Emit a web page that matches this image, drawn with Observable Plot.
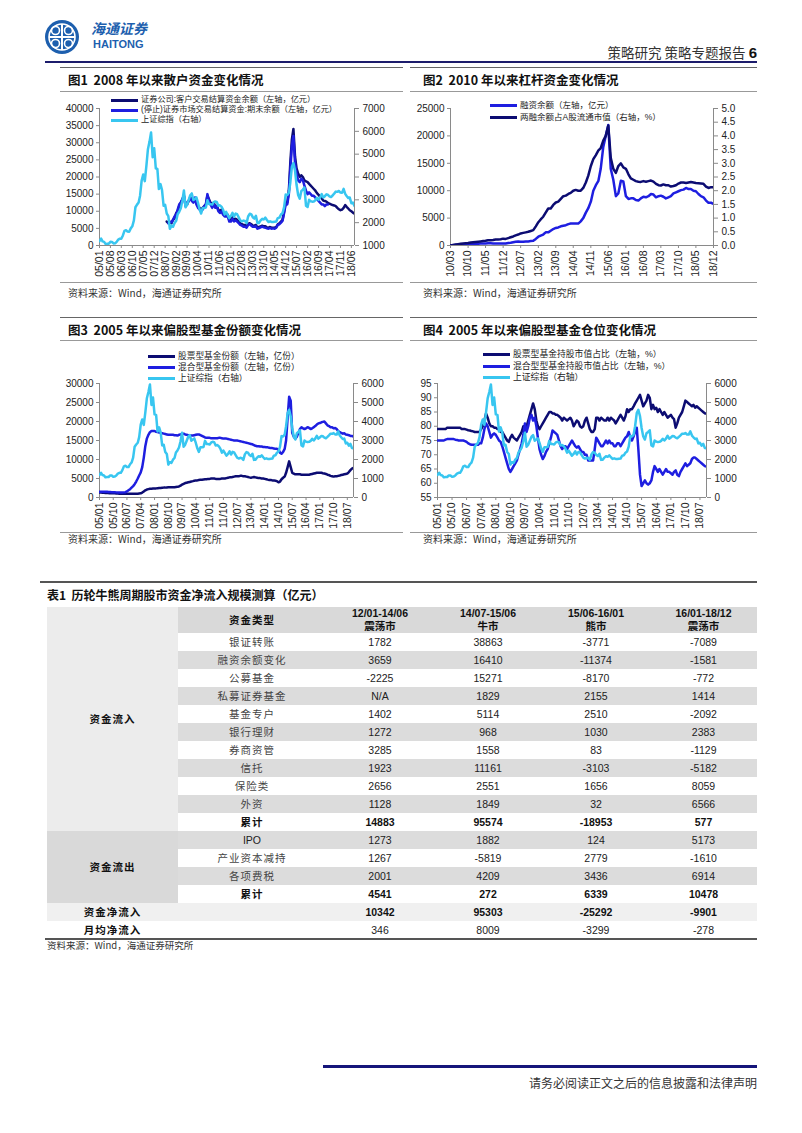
<!DOCTYPE html>
<html><head><meta charset="utf-8">
<script src="https://cdn.jsdelivr.net/npm/d3@7"></script>
<script src="https://cdn.jsdelivr.net/npm/@observablehq/plot@0.6"></script>
<style>
body{margin:0;background:#fff;}
#page{position:relative;width:802px;height:1133px;overflow:hidden;font-family:"Noto Sans CJK SC",sans-serif;background:#fff;}
.rule{position:absolute;height:0;}
.title{position:absolute;font-weight:bold;font-size:12.5px;white-space:pre;color:#111;line-height:1;}
.src{position:absolute;font-size:10px;color:#333;line-height:1;white-space:pre;}
.leg{position:absolute;display:flex;align-items:center;line-height:1;white-space:pre;color:#222;font-family:"Liberation Sans","Noto Sans CJK SC",sans-serif;}
.leg .sw{display:inline-block;width:27px;height:3px;margin-right:3px;}
.chart{position:absolute;}
#tbl{position:absolute;left:47px;top:607px;width:710px;border-collapse:collapse;border-spacing:0;table-layout:fixed;
 font-family:"Liberation Sans",Arial,"Noto Sans CJK SC",sans-serif;font-size:10.5px;color:#222;}
#tbl td{padding:0;height:18px;text-align:center;line-height:1;}
#tbl .cn{color:#444;letter-spacing:1px;font-family:"Noto Sans CJK SC",sans-serif;}
#tbl .b{font-weight:bold;color:#111;}
</style>
</head><body><div id="page"></div>
<script>
// ---------------- DATA ----------------
const shStart = "2005-01"; // 上证综指 monthly
const shIndex = [
1190,1300,1180,1160,1060,1080,1080,1160,1155,1090,1100,1160,
1260,1300,1300,1440,1640,1670,1610,1600,1750,1840,2100,2675,
2790,2880,3180,3840,4110,3820,4470,5220,5550,5950,4870,5260,
4380,4350,3470,3690,3430,2740,2780,2400,2290,1730,1870,1820,
1990,2080,2370,2480,2630,2960,3410,2670,2780,2990,3200,3280,
2990,3050,3110,2870,2590,2400,2640,2640,2660,2980,2820,2810,
2790,2900,2930,2910,2740,2760,2700,2570,2360,2470,2330,2200,
2290,2430,2260,2400,2370,2230,2100,2050,2090,2070,1980,2270,
2390,2360,2240,2180,2300,1980,1990,2100,2170,2140,2220,2120,
2030,2060,2030,2030,2040,2050,2200,2220,2360,2420,2680,3230,
3210,3310,3750,4440,4610,4280,3660,3210,3050,3380,3450,3540,
2740,2690,3000,2940,2920,2930,2980,3090,3000,3100,3250,3100,
3160,3240,3220,3150,3120,3190,3270,3360,3350,3390,3320,3310,
3480,3260,3170,3080,3100,2850,2880,2730,2820,2600,2590,2490];

// Fig 1
const c1Ticks = ["05/01","05/08","06/03","06/10","07/05","07/12","08/07","09/02","09/09","10/04","10/11","11/06","12/01","12/08","13/03","13/10","14/05","14/12","15/07","16/02","16/09","17/04","17/11","18/06"];
const c1NavyStart = "2008-08"; // 证券公司:客户交易结算资金余额
const c1Navy = [7000,6500,6800,6500,7500,
8000,9500,10000,11500,12500,13500,14500,12000,12000,13000,14000,13500,
13000,13500,12500,11500,11000,10500,11000,11500,12000,14500,13500,12500,
12000,12500,11500,11500,10500,10000,10500,9500,9000,9000,9000,7500,
7500,8200,7500,7800,7500,7000,6500,6200,6000,6000,5500,6300,
6500,6200,5800,5800,6000,5200,5400,5600,5800,5600,5600,5300,
5200,5400,5200,5200,5200,5400,6200,6500,7000,7500,10000,12500,
12500,16000,24000,31000,34000,26000,22500,21000,20000,20500,20000,19000,
18700,18500,18000,17500,17000,16500,16000,15300,14800,14200,13800,13100,
13000,12800,12500,12200,12000,11800,11700,11500,11000,10600,10300,10500,
11000,11800,11300,10800,10300,10000,9600,9300];
const c1BlueStart = "2008-09"; // (停止)证券市场交易结算资金:期末余额
const c1Blue = [6500,7000,6800,7500,
8500,9000,10500,12000,12500,13500,14500,11500,12500,13000,14000,13000,
12500,14000,12000,11000,10500,10000,10500,11500,12000,15000,13000,12000,
11000,12000,11000,11500,10000,9500,10000,9000,8500,8500,8500,7000,
7000,7800,7000,7300,7000,6500,6000,5800,5500,5500,5200,6000,
6200,5800,5500,5500,5600,4900,5100,5300,5500,5300,5200,5000,
4900,5100,4900,5000,4900,5200,6000,6200,6700,7200,9500,12000,
12000,15000,22000,29000,32000,24000,21000,19000,18500,19500,19000,17500,
16000,15000,15500,15000,14500,14500,14000,13500,13000,12500,12000,12000,
11500,12000,12000];

// Fig 2
const c2Ticks = ["10/03","10/10","11/05","11/12","12/07","13/02","13/09","14/04","14/11","15/06","16/01","16/08","17/03","17/10","18/05","18/12"];
const c2Start = "2010-03";
const c2Margin = [5,40,70,90,110,140,170,200,260,250,
290,320,350,370,380,400,390,380,370,370,380,350,
360,450,500,600,700,730,700,700,750,750,800,850,
1200,1600,1800,2000,2400,2400,2700,3000,3200,3300,3500,3600,
3700,3900,4000,4000,4000,4000,4400,5000,6000,6800,8000,10000,
11000,11800,14000,18000,20000,22000,14000,12000,9000,9500,11800,11700,
9000,8500,8600,8600,8300,8200,8600,8900,8800,9000,9400,9300,
8800,9000,9100,8900,8600,8800,9000,9500,9700,9900,10100,10200,
10500,10300,10300,10000,9900,9400,9000,8800,8200,7800,7800,7600];
const c2Ratio = [0.00,0.02,0.04,0.05,0.06,0.07,0.08,0.09,0.11,0.12,
0.13,0.14,0.15,0.16,0.17,0.19,0.19,0.20,0.22,0.22,0.23,0.25,
0.24,0.27,0.30,0.33,0.37,0.40,0.44,0.46,0.48,0.50,0.53,0.56,
0.70,0.85,0.95,1.05,1.2,1.35,1.35,1.48,1.57,1.6,1.7,1.8,
1.82,1.88,1.92,2.0,2.03,2.0,2.0,2.1,2.3,2.55,2.9,3.15,
3.3,3.47,3.55,3.83,4.0,4.38,3.2,2.8,2.65,2.9,3.0,2.85,
2.8,2.6,2.45,2.4,2.35,2.33,2.32,2.35,2.33,2.35,2.37,2.33,
2.25,2.2,2.19,2.23,2.2,2.2,2.15,2.17,2.2,2.26,2.3,2.3,
2.28,2.3,2.32,2.3,2.28,2.27,2.26,2.25,2.15,2.1,2.13,2.12];

// Fig 3
const c3Ticks = ["05/01","05/10","06/07","07/04","08/01","08/10","09/07","10/04","11/01","11/10","12/07","13/04","14/01","14/10","15/07","16/04","17/01","17/10","18/07"];
const c34Start = "2005-01";
const c3Stock = [1300,1300,1250,1250,1200,1200,1150,1150,1100,1100,1100,1050,
1050,1000,1000,1000,1000,1000,1000,1000,1000,1000,1000,1000,
1000,1000,1050,1100,1300,1600,1900,2100,2200,2300,2300,2350,
2400,2400,2450,2500,2500,2550,2600,2600,2650,2700,2700,2700,
2700,2700,2750,2800,2900,3100,3400,3600,3800,3900,4000,4100,
4200,4300,4400,4500,4500,4600,4700,4700,4750,4800,4800,4900,
4900,5000,5000,5000,4900,4900,4900,4900,5000,5000,5000,5100,
5200,5300,5300,5400,5500,5600,5600,5600,5700,5700,5600,5600,
5500,5400,5300,5200,5300,5400,5300,5200,5100,5100,5000,5000,
4900,4800,4700,4600,4600,4500,4500,4400,4300,4000,4200,4800,
5200,5500,6500,8000,9500,8000,6500,6300,6100,6100,6100,6100,
6000,6000,6000,6000,6000,6000,6100,6200,6300,6400,6500,6500,
6500,6500,6400,6300,6200,6000,5900,5700,5600,5500,5600,5600,
5700,5800,5900,6000,6100,6200,6300,6700,7200,7600,7800];
const c3Mixed = [1500,1500,1500,1500,1500,1500,1450,1450,1400,1400,1400,1350,
1300,1300,1300,1300,1350,1400,1600,1900,2200,2600,3000,3500,
4200,5000,5800,6600,8000,10500,13500,15500,16500,17200,17500,17500,
17500,17300,17200,17100,17000,16900,16800,16700,16600,16500,16500,16500,
16500,16400,16400,16300,16500,16600,16700,16800,16600,16500,16400,16300,
16300,16300,16400,16500,16600,16600,16400,16200,16000,15800,15700,15700,
15700,15600,15600,15600,15600,15600,15700,15700,15600,15500,15500,15500,
15400,15300,15200,15100,15000,15000,15000,14900,14800,14700,14600,14500,
14400,14300,14200,14100,14000,13800,13600,13500,13500,13400,13400,13300,
13300,13200,13200,13100,13000,13000,12900,12800,12800,12600,11800,11500,
12000,12800,15000,21000,26500,25500,17000,16000,15500,16000,17000,18000,
18500,18200,18000,18200,18500,18300,18000,18200,18500,18800,19200,19500,
19600,19800,19900,20000,19500,19000,18800,18500,18500,18200,18300,18000,
17500,17200,17000,16800,16900,16600,16500,16400,16200,16200,16000];

// Fig 4
const c4Stock = [79,79,79,79,79,79,79.5,79.5,79.5,79.5,79.5,79.5,
79.5,79.5,79.5,79,79,79,78.8,78.6,78.5,78.3,78.2,78,
78,78,78,79,80,82,84.5,83,81,80,80,79.5,
79.5,79,79,78,78,77,76,75,74.5,76,77,76,
75.5,75,76,77,78,80,79,80,82,84,86,88,
86,82,80,79,80,81,82,83,84,85,85,84.5,
84.5,84,84,83.5,83,82,83,82.5,82,82.5,83,82,
80,81,82,81.5,80,79.5,80,82,83,81,79,78,
78,79,83,83,82,83,82.5,82,82,83,82,83,
82.5,82,81,82,83,84,83,82,83.5,86,85,86,
86,87,88,89,90,91,89,87,88,89,91,90,
86,87.5,86,86.5,85,86,85,84,85,84,83,83.5,
84,83,82.5,79.5,81,83,84,85,87,89,88.5,88,
87.5,87,87.5,86.5,87,86.5,86,85.5,85,84.5,84.5];
const c4Mixed = [75,75,75,75,75,75.3,75.5,75.5,75.5,75.5,75.5,75.3,
75.2,75,75,75,75,74.8,74.5,74,73.7,73.5,73.5,73.5,
73.5,73.5,74,74,76,79,81,80,78,76,77,77.5,
77,76,75,74.5,73,71,69,67,65,64,65,66,
67,68,70,72,74,77,81,78,80,83,84,82,
83,80,76,72,70,68.5,69.5,71,72,74,76,78.5,
78,77.5,77,75,73,72,73,73,72,73,74,75,
74,73,72.5,73,72,71,71,70,70,68,68,68,
68,72,76,75,74,73,73,74,75,74,75,74,
74,73,73,74,74,73,74,75,76,76.5,78,76,
75,76.5,78,79.5,72,63,59,60,61,60,59.5,60,
61,64,66,65,64,65,64,63,64,65,64,64,
63.5,63,64,64.5,63,62.5,64,65,66,67,66,66.5,
67,68.5,69,69,68.5,68,67.5,67,66.5,66,65.8];

// Legends & titles
const c1Legend = ["证券公司:客户交易结算资金余额（左轴，亿元）","(停止)证券市场交易结算资金:期末余额（左轴，亿元）","上证综指（右轴）"];
const c2Legend = ["融资余额（左轴，亿元）","两融余额占A股流通市值（右轴，%）"];
const c3Legend = ["股票型基金份额（左轴，亿份）","混合型基金份额（左轴，亿份）","上证综指（右轴）"];
const c4Legend = ["股票型基金持股市值占比（左轴，%）","混合型型基金持股市值占比（左轴，%）","上证综指（右轴）"];
const titles = ["图1  2008 年以来散户资金变化情况","图2  2010 年以来杠杆资金变化情况","图3  2005 年以来偏股型基金份额变化情况","图4  2005 年以来偏股型基金仓位变化情况"];
const sourceText = "资料来源：Wind，海通证券研究所";

// Table
const tableTitle = "表1  历轮牛熊周期股市资金净流入规模测算（亿元）";
const tableCols = ["12/01-14/06","14/07-15/06","15/06-16/01","16/01-18/12"];
const tableColSub = ["震荡市","牛市","熊市","震荡市"];
const inflowTypes = ["银证转账","融资余额变化","公募基金","私募证券基金","基金专户","银行理财","券商资管","信托","保险类","外资","累计"];
const inflowVals = [[1782,38863,-3771,-7089],[3659,16410,-11374,-1581],[-2225,15271,-8170,-772],["N/A",1829,2155,1414],[1402,5114,2510,-2092],[1272,968,1030,2383],[3285,1558,83,-1129],[1923,11161,-3103,-5182],[2656,2551,1656,8059],[1128,1849,32,6566],[14883,95574,-18953,577]];
const outflowTypes = ["IPO","产业资本减持","各项费税","累计"];
const outflowVals = [[1273,1882,124,5173],[1267,-5819,2779,-1610],[2001,4209,3436,6914],[4541,272,6339,10478]];
const netInflow = [10342,95303,-25292,-9901];
const monthlyInflow = [346,8009,-3299,-278];

// ---------------- RENDER ----------------
const NAVY = "#0c0c72", BLUE = "#1e1ee0", CYAN = "#38c6f0", AX = "#8a8a8a";
const page = document.getElementById("page");
const P = d3.utcParse("%Y-%m"), T = d3.utcParse("%y/%m"), fmtYM = d3.utcFormat("%y/%m");
const monthly = (start, vals) => vals.map((v, i) => ({date: d3.utcMonth.offset(P(start), i), v}));

function el(tag, cls, css, html) {
  const e = document.createElement(tag);
  if (cls) e.className = cls;
  Object.assign(e.style, css || {});
  if (html != null) e.innerHTML = html;
  page.appendChild(e);
  return e;
}
function rule(x1, x2, y, w, c) { el("div", "rule", {left: x1 + "px", top: (y - w / 2) + "px", width: (x2 - x1) + "px", borderTop: w + "px solid " + c}); }

// header
el("div", null, {position: "absolute", left: "44px", top: "19px", width: "36px", height: "36px"},
 `<svg width="36" height="36" viewBox="0 0 36 36"><circle cx="18" cy="18" r="17" fill="#1d5fae"/>
 <circle cx="18" cy="18" r="13" fill="none" stroke="#fff" stroke-width="1.6"/>
 <path d="M18 5 V31 M5 18 H31" stroke="#fff" stroke-width="2"/>
 <circle cx="11.5" cy="11.5" r="4" fill="none" stroke="#fff" stroke-width="1.6"/><circle cx="24.5" cy="11.5" r="4" fill="none" stroke="#fff" stroke-width="1.6"/>
 <circle cx="11.5" cy="24.5" r="4" fill="none" stroke="#fff" stroke-width="1.6"/><circle cx="24.5" cy="24.5" r="4" fill="none" stroke="#fff" stroke-width="1.6"/></svg>`);
el("div", null, {position: "absolute", left: "91px", top: "21px", fontSize: "14px", fontStyle: "italic", fontWeight: "bold", color: "#1d5fae", lineHeight: "1", letterSpacing: "0px"}, "海通证券");
el("div", null, {position: "absolute", left: "93px", top: "39px", fontSize: "11px", fontWeight: "bold", color: "#1d5fae", lineHeight: "1", fontFamily: "'Liberation Sans',Arial,sans-serif"}, "HAITONG");
el("div", null, {position: "absolute", right: "45px", top: "45px", fontSize: "13.5px", color: "#333", lineHeight: "1", whiteSpace: "pre"}, '策略研究 策略专题报告 <b style="font-family:Liberation Sans,Arial;font-size:15px;color:#111">6</b>');
rule(45, 757, 62, 2, "#1c1c6c");

// section rules, titles, sources
const cols = [[60, 403, 68], [410, 757, 423]];
[[68, 80, 91, 282, 293], [318, 330, 340, 532, 539]].forEach((r, ri) => {
  cols.forEach((c, ci) => {
    rule(c[0], c[1], r[0], 1.5, "#666");
    rule(c[0], c[1], r[2], 1, "#999");
    rule(c[0], c[1], r[3], 1, "#999");
    el("div", "title", {left: c[2] + "px", top: (r[1] - 6.5) + "px"}, titles[ri * 2 + ci]);
    el("div", "src", {left: c[2] + "px", top: (r[4] - 5) + "px"}, sourceText);
  });
});

function legend(x, ys, labels, colors, fs) {
  labels.forEach((l, i) => {
    el("div", "leg", {left: x + "px", top: (ys[i] - 4.5) + "px", height: "9px", fontSize: fs + "px"},
      `<span class="sw" style="background:${colors[i]}"></span><span>${l}</span>`);
  });
}

function chart(cfg) {
  const toLeft = d3.scaleLinear().domain(cfg.rDomain).range(cfg.yDomain);
  const xDomain = cfg.xDomain.map(P);
  const marks = [
    Plot.ruleY([cfg.yDomain[0]], {stroke: AX}),
    Plot.ruleX([xDomain[0]], {stroke: AX}),
    Plot.ruleX([xDomain[1]], {stroke: AX}),
    Plot.axisY({anchor: "left", label: null, ticks: cfg.yTicks, tickFormat: d3.format("d"), tickSize: 3, tickPadding: 3, stroke: AX, fontSize: 10}),
    Plot.axisY({anchor: "right", label: null, ticks: cfg.rTicks.map(toLeft), tickFormat: d => cfg.rFmt(+toLeft.invert(d).toFixed(6)), tickSize: 4, tickPadding: 4, stroke: AX, fontSize: 10}),
    Plot.axisX({label: null, ticks: cfg.xTicks.map(T), tickFormat: fmtYM, tickRotate: -90, tickSize: 3, tickPadding: 2, stroke: AX, fontSize: 10.5}),
    ...cfg.series.map(s => Plot.line(s.data, {x: "date", y: s.right ? (d => toLeft(d.v)) : "v", stroke: s.color, strokeWidth: 2.5, clip: true}))
  ];
  const svg = Plot.plot({
    width: cfg.w, height: cfg.h, marginLeft: cfg.m[0], marginRight: cfg.m[1], marginTop: cfg.m[2], marginBottom: cfg.m[3],
    x: {type: "utc", domain: xDomain, label: null},
    y: {domain: cfg.yDomain, label: null},
    style: {fontFamily: "'Liberation Sans', Arial, sans-serif", fontSize: "10px", color: "#222", background: "transparent", overflow: "visible"},
    marks
  });
  const wrap = el("div", "chart", {left: cfg.left + "px", top: cfg.top + "px"});
  wrap.appendChild(svg);
}

const sh = monthly(shStart, shIndex);

chart({left: 55, top: 95, w: 350, h: 190, m: [44, 51, 13, 40],
  xDomain: ["2005-01", "2018-08"], xTicks: c1Ticks,
  yDomain: [0, 40000], yTicks: d3.range(0, 40001, 5000),
  rDomain: [1000, 7000], rTicks: d3.range(1000, 7001, 1000), rFmt: d3.format("d"),
  series: [{data: monthly(c1NavyStart, c1Navy), color: NAVY}, {data: monthly(c1BlueStart, c1Blue), color: BLUE}, {data: sh, color: CYAN, right: true}]});
chart({left: 405, top: 95, w: 352, h: 190, m: [45, 44, 13, 40],
  xDomain: ["2010-03", "2018-12"], xTicks: c2Ticks,
  yDomain: [0, 25000], yTicks: d3.range(0, 25001, 5000),
  rDomain: [0, 5], rTicks: d3.range(0, 11).map(i => i / 2), rFmt: d3.format(".1f"),
  series: [{data: monthly(c2Start, c2Margin), color: BLUE}, {data: monthly(c2Start, c2Ratio), color: NAVY, right: true}]});
chart({left: 55, top: 370, w: 350, h: 165, m: [44, 52, 13, 38],
  xDomain: ["2005-01", "2018-11"], xTicks: c3Ticks,
  yDomain: [0, 30000], yTicks: d3.range(0, 30001, 5000),
  rDomain: [0, 6000], rTicks: d3.range(0, 6001, 1000), rFmt: d3.format("d"),
  series: [{data: monthly(c34Start, c3Stock), color: NAVY}, {data: monthly(c34Start, c3Mixed), color: BLUE}, {data: sh, color: CYAN, right: true}]});
chart({left: 405, top: 370, w: 352, h: 165, m: [32, 51, 13, 38],
  xDomain: ["2005-01", "2018-11"], xTicks: c3Ticks,
  yDomain: [55, 95], yTicks: d3.range(55, 96, 5),
  rDomain: [0, 6000], rTicks: d3.range(0, 6001, 1000), rFmt: d3.format("d"),
  series: [{data: monthly(c34Start, c4Stock), color: NAVY}, {data: monthly(c34Start, c4Mixed), color: BLUE}, {data: sh, color: CYAN, right: true}]});

legend(111, [100.5, 110.5, 120.5], c1Legend, [NAVY, BLUE, CYAN], 8.2);
legend(490, [105, 117], c2Legend, [BLUE, NAVY], 8.5);
legend(148, [356, 367, 378], c3Legend, [NAVY, BLUE, CYAN], 8.7);
legend(483, [354, 366, 377], c4Legend, [NAVY, BLUE, CYAN], 8.8);

// table
rule(40, 757, 582, 2, "#555");
el("div", "title", {left: "47px", top: "589px", fontSize: "12px"}, tableTitle);
const tbl = el("table", null, {});
tbl.id = "tbl";
let h = '<colgroup><col style="width:131px"><col style="width:148px"><col style="width:108px"><col style="width:108px"><col style="width:108px"><col style="width:107px"></colgroup>';
const G = "#dcdcdc";
h += `<tr><td rowspan="${inflowTypes.length + 1}" class="cn b" style="background:#ececec">资金流入</td>` +
     `<td class="cn b" style="background:#d9d9d9;height:26px">资金类型</td>` +
     tableCols.map((c, i) => `<td class="b" style="background:#d9d9d9;height:26px;line-height:1.2">${c}<br><span style="font-family:Noto Sans CJK SC">${tableColSub[i]}</span></td>`).join("") + "</tr>";
inflowTypes.forEach((t, i) => {
  const bg = i % 2 === 1 ? G : "#fff";
  const b = t === "累计" ? " b" : "";
  h += `<tr><td class="cn${b}" style="background:${bg}">${t}</td>` + inflowVals[i].map(v => `<td class="${b}" style="background:${bg}">${v}</td>`).join("") + "</tr>";
});
outflowTypes.forEach((t, i) => {
  const bg = i % 2 === 0 ? G : "#fff";
  const b = t === "累计" ? " b" : "";
  h += "<tr>" + (i === 0 ? `<td rowspan="${outflowTypes.length}" class="cn b" style="background:#d9d9d9">资金流出</td>` : "") +
       `<td class="${t === "IPO" ? "" : "cn"}${b}" style="background:${bg}">${t}</td>` + outflowVals[i].map(v => `<td class="${b}" style="background:${bg}">${v}</td>`).join("") + "</tr>";
});
h += `<tr style="background:#f0f0f0"><td class="cn b">资金净流入</td><td></td>` + netInflow.map(v => `<td class="b">${v}</td>`).join("") + "</tr>";
h += `<tr><td class="cn b">月均净流入</td><td></td>` + monthlyInflow.map(v => `<td>${v}</td>`).join("") + "</tr>";
tbl.innerHTML = h;
rule(45, 757, 939, 2, "#555");
el("div", "src", {left: "47px", top: "941px", fontSize: "9.5px"}, sourceText);

// footer
rule(323, 757, 1066, 3, "#15157a");
el("div", null, {position: "absolute", right: "45px", top: "1077px", fontSize: "12px", color: "#333", lineHeight: "1"}, "请务必阅读正文之后的信息披露和法律声明");
</script>
</body></html>
